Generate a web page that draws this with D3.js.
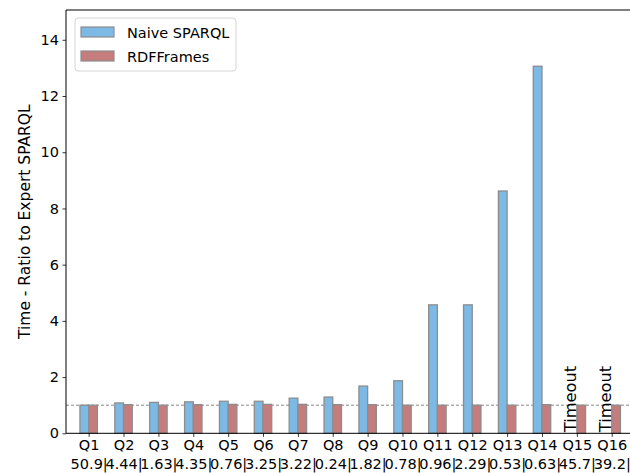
<!DOCTYPE html>
<html>
<head>
<meta charset="utf-8">
<script src="https://cdn.jsdelivr.net/npm/d3@7"></script>
<style>
  html, body { margin: 0; padding: 0; background: #fff; }
  svg { display: block; font-family: "DejaVu Sans", sans-serif; }
</style>
</head>
<body>
<svg id="chart" width="630" height="473"></svg>
<script>
// ---- data ----
const categories = ["Q1","Q2","Q3","Q4","Q5","Q6","Q7","Q8","Q9","Q10","Q11","Q12","Q13","Q14","Q15","Q16"];
const secondLine = ["50.9|","4.44|","1.63|","4.35|","0.76|","3.25|","3.22|","0.24|","1.82|","0.78|","0.96|","2.29|","0.53|","0.63|","45.7|","39.2|"];
const naiveSparql = [1.0, 1.08, 1.10, 1.12, 1.14, 1.14, 1.25, 1.29, 1.68, 1.87, 4.57, 4.57, 8.62, 13.06, null, null];
const rdfFrames   = [1.0, 1.02, 1.0, 1.02, 1.03, 1.03, 1.03, 1.02, 1.02, 1.0, 1.0, 1.0, 1.0, 1.02, 1.0, 1.0];
const seriesNames = ["Naive SPARQL", "RDFFrames"];
const yTicks = [0, 2, 4, 6, 8, 10, 12, 14];
const timeoutLabel = "Timeout";
const yLabel = "Time - Ratio to Expert SPARQL";

// ---- layout ----
const colors = ["#7cb9e5", "#c47c7c"];
const edge = "#8d8d8d";
const mLeft = 66, mRight = 634.4, mTop = 10, mBottom = 433.3;
const svg = d3.select("#chart");

const x = d3.scalePoint().domain(categories).range([mLeft, mRight]).padding(0.65);
const y = d3.scaleLinear().domain([0, 15.06]).range([mBottom, mTop]);
const bw = x.step() * 0.25;

// dashed reference line at 1
svg.append("line")
  .attr("x1", mLeft).attr("x2", 630)
  .attr("y1", y(1)).attr("y2", y(1))
  .attr("stroke", "#7a7a7a").attr("stroke-width", 0.9)
  .attr("stroke-dasharray", "3,2");

// bars
const g = svg.append("g");
categories.forEach((c, i) => {
  const cx = x(c);
  if (naiveSparql[i] != null) {
    g.append("rect")
      .attr("x", cx - bw).attr("width", bw)
      .attr("y", y(naiveSparql[i])).attr("height", y(0) - y(naiveSparql[i]))
      .attr("fill", colors[0]).attr("stroke", edge).attr("stroke-width", 1.3);
  }
  g.append("rect")
    .attr("x", cx).attr("width", bw)
    .attr("y", y(rdfFrames[i])).attr("height", y(0) - y(rdfFrames[i]))
    .attr("fill", colors[1]).attr("stroke", edge).attr("stroke-width", 1.3);
  if (naiveSparql[i] == null) {
    const tx = cx - bw / 2 + 3.3;
    svg.append("text")
      .attr("transform", `translate(${tx},${y(0) - 1}) rotate(-90)`)
      .attr("font-size", 16.3).attr("fill", "#000")
      .text(timeoutLabel);
  }
});

// axes
const yAxis = d3.axisLeft(y).tickValues(yTicks).tickSize(3.5).tickPadding(3.5);
const yg = svg.append("g").attr("transform", `translate(${mLeft},0)`).call(yAxis);
yg.select(".domain").remove();
yg.selectAll("text").attr("font-size", 14.5).attr("font-family", "DejaVu Sans").attr("fill", "#000");
yg.selectAll("line").attr("stroke", "#000").attr("stroke-width", 0.8);

const xAxis = d3.axisBottom(x).tickSize(3.5).tickPadding(3.5).tickFormat(() => "");
const xg = svg.append("g").attr("transform", `translate(0,${mBottom})`).call(xAxis);
xg.select(".domain").remove();
xg.selectAll("line").attr("stroke", "#000").attr("stroke-width", 0.8);
xg.selectAll(".tick").each(function(d, i) {
  const t = d3.select(this).append("text")
    .attr("fill", "#000").attr("font-size", 14.5).attr("font-family", "DejaVu Sans")
    .attr("text-anchor", "middle");
  t.append("tspan").attr("x", 0).attr("y", 17).text(d);
  t.append("tspan").attr("x", 0).attr("y", 36).text(secondLine[i]);
});

// spines
svg.append("line").attr("x1", mLeft).attr("x2", mLeft).attr("y1", mTop).attr("y2", mBottom)
  .attr("stroke", "#000").attr("stroke-width", 1);
svg.append("line").attr("x1", mLeft).attr("x2", 630).attr("y1", mBottom).attr("y2", mBottom)
  .attr("stroke", "#000").attr("stroke-width", 1);
svg.append("line").attr("x1", mLeft).attr("x2", 630).attr("y1", mTop).attr("y2", mTop)
  .attr("stroke", "#000").attr("stroke-width", 1);

// y label
svg.append("text")
  .attr("transform", `translate(30,${(mTop + mBottom) / 2}) rotate(-90)`)
  .attr("text-anchor", "middle").attr("font-size", 15.5).attr("fill", "#000")
  .text(yLabel);

// legend
const lg = svg.append("g");
lg.append("rect").attr("x", 75).attr("y", 18).attr("width", 161).attr("height", 53)
  .attr("rx", 3).attr("fill", "#fff").attr("fill-opacity", 0.8)
  .attr("stroke", "#d5d5d5").attr("stroke-width", 1);
seriesNames.forEach((n, i) => {
  const cy = 32 + i * 24;
  lg.append("rect").attr("x", 81).attr("y", cy - 5).attr("width", 33).attr("height", 10)
    .attr("fill", colors[i]).attr("stroke", edge).attr("stroke-width", 1.2);
  lg.append("text").attr("x", 127).attr("y", cy + 5.5)
    .attr("font-size", 14.5).attr("fill", "#000").text(n);
});
</script>
</body>
</html>
